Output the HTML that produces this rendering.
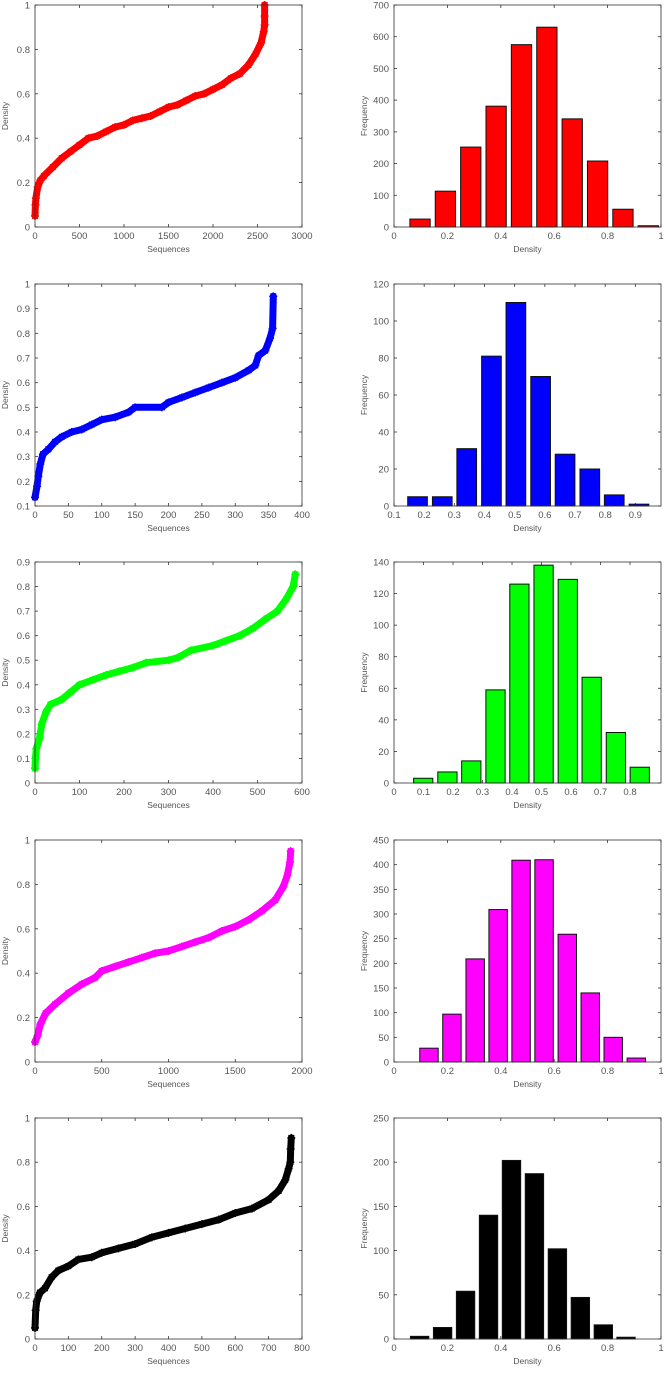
<!DOCTYPE html>
<html><head><meta charset="utf-8"><style>
body{margin:0;background:#fff;}
svg{display:block;font-family:"Liberation Sans",sans-serif;}
</style></head><body>
<svg id="fig" width="666" height="1375" viewBox="0 0 666 1375" xmlns="http://www.w3.org/2000/svg"></svg>
<script>
// ---- scatter data (Sequences vs Density) ----
const redSeqX=[0,5,10,30,60,100,200,300,400,500,600,700,800,900,1000,1100,1200,1300,1400,1500,1600,1700,1800,1900,2000,2100,2200,2300,2400,2480,2540,2570,2580,2580,2580];
const redSeqY=[0.05,0.1,0.13,0.18,0.21,0.23,0.27,0.31,0.34,0.37,0.40,0.41,0.43,0.45,0.46,0.48,0.49,0.50,0.52,0.54,0.55,0.57,0.59,0.60,0.62,0.64,0.67,0.69,0.73,0.78,0.83,0.88,0.91,0.95,1.0];
const blueSeqX=[0,3,5,8,12,20,30,40,55,70,85,100,120,140,150,190,200,220,240,260,280,300,320,330,335,345,352,356,357];
const blueSeqY=[0.135,0.18,0.22,0.27,0.31,0.33,0.36,0.38,0.40,0.41,0.43,0.45,0.46,0.48,0.50,0.50,0.52,0.54,0.56,0.58,0.60,0.62,0.65,0.67,0.71,0.73,0.78,0.82,0.95];
const greenSeqX=[0,1,3,10,15,25,35,60,80,100,130,160,190,220,250,300,320,350,400,430,460,490,520,545,565,580,585];
const greenSeqY=[0.06,0.1,0.14,0.18,0.24,0.29,0.32,0.34,0.37,0.40,0.42,0.44,0.455,0.47,0.49,0.50,0.51,0.54,0.56,0.58,0.60,0.63,0.67,0.70,0.75,0.80,0.85];
const magSeqX=[0,20,40,80,150,250,350,450,500,600,700,800,900,1000,1100,1200,1300,1400,1500,1600,1700,1800,1860,1890,1910,1915];
const magSeqY=[0.09,0.12,0.17,0.22,0.26,0.31,0.35,0.38,0.41,0.43,0.45,0.47,0.49,0.50,0.52,0.54,0.56,0.59,0.61,0.64,0.68,0.73,0.79,0.84,0.90,0.95];
const blackSeqX=[0,2,5,15,30,50,70,100,130,170,200,250,300,350,400,450,500,550,600,650,700,730,750,760,765,766,768];
const blackSeqY=[0.05,0.13,0.17,0.21,0.23,0.28,0.31,0.33,0.36,0.37,0.39,0.41,0.43,0.46,0.48,0.50,0.52,0.54,0.57,0.59,0.63,0.67,0.72,0.77,0.80,0.86,0.91];
// ---- histogram data ----
const redFreq=[25,113,252,381,575,630,341,208,56,4];
const blueFreq=[5,5,31,81,110,70,28,20,6,1];
const greenFreq=[3,7,14,59,126,138,129,67,32,10];
const magFreq=[28,97,209,309,409,410,259,140,50,8];
const blackFreq=[3,13,54,140,202,187,102,47,16,2];
const redBins=[0.0975,0.1925,0.2875,0.3825,0.4775,0.5725,0.6675,0.7625,0.8575,0.9525];
const blueBins=[0.178,0.26,0.341,0.423,0.504,0.586,0.667,0.749,0.83,0.912];
const greenBins=[0.099,0.181,0.262,0.344,0.425,0.507,0.589,0.67,0.752,0.833];
const magBins=[0.131,0.217,0.304,0.39,0.476,0.562,0.649,0.735,0.821,0.9075];
const blackBins=[0.096,0.182,0.268,0.354,0.44,0.526,0.612,0.698,0.784,0.869];
// ---- tick labels ----
const redXTicks=[0,500,1000,1500,2000,2500,3000], redYTicks=[0,0.2,0.4,0.6,0.8,1];
const blueXTicks=[0,50,100,150,200,250,300,350,400], blueYTicks=[0.1,0.2,0.3,0.4,0.5,0.6,0.7,0.8,0.9,1];
const greenXTicks=[0,100,200,300,400,500,600], greenYTicks=[0,0.1,0.2,0.3,0.4,0.5,0.6,0.7,0.8,0.9];
const magXTicks=[0,500,1000,1500,2000], magYTicks=[0,0.2,0.4,0.6,0.8,1];
const blackXTicks=[0,100,200,300,400,500,600,700,800], blackYTicks=[0,0.2,0.4,0.6,0.8,1];
const h1X=[0,0.2,0.4,0.6,0.8,1], h1Y=[0,100,200,300,400,500,600,700];
const h2X=[0.1,0.2,0.3,0.4,0.5,0.6,0.7,0.8,0.9], h2Y=[0,20,40,60,80,100,120];
const h3X=[0,0.1,0.2,0.3,0.4,0.5,0.6,0.7,0.8], h3Y=[0,20,40,60,80,100,120,140];
const h4X=[0,0.2,0.4,0.6,0.8,1], h4Y=[0,50,100,150,200,250,300,350,400,450];
const h5X=[0,0.2,0.4,0.6,0.8,1], h5Y=[0,50,100,150,200,250];

const NS='http://www.w3.org/2000/svg';
const svg=document.getElementById('fig');
function mk(tag,attrs,parent){const e=document.createElementNS(NS,tag);for(const k in attrs)e.setAttribute(k,attrs[k]);(parent||svg).appendChild(e);return e;}
function fmt(v){return String(Math.round(v*1000)/1000);}

function axes(g,L,R,T,B,xmin,xmax,ymin,ymax,xt,yt,xlabel,ylabel){
  const sx=v=>L+(v-xmin)/(xmax-xmin)*(R-L);
  const sy=v=>B-(v-ymin)/(ymax-ymin)*(B-T);
  xt.forEach(v=>{const x=sx(v);
    const t=mk('line',{x1:x,y1:B,x2:x,y2:B-3,stroke:'#333','stroke-width':0.8},g);
    
    mk('line',{x1:x,y1:T,x2:x,y2:T+3,stroke:'#333','stroke-width':0.8},g);
    const tx=mk('text',{x:x,y:B+12,'font-size':9.5,fill:'#555','text-anchor':'middle'},g);tx.textContent=fmt(v);
    
  });
  yt.forEach(v=>{const y=sy(v);
    const t=mk('line',{x1:L,y1:y,x2:L+3,y2:y,stroke:'#333','stroke-width':0.8},g);
    
    mk('line',{x1:R,y1:y,x2:R-3,y2:y,stroke:'#333','stroke-width':0.8},g);
    const tx=mk('text',{x:L-5,y:y+3.5,'font-size':9.5,fill:'#555','text-anchor':'end'},g);tx.textContent=fmt(v);
    
  });
  const xl=mk('text',{x:(L+R)/2,y:B+25,'font-size':8.5,fill:'#555','text-anchor':'middle'},g);xl.textContent=xlabel;
  
  const yl=mk('text',{x:0,y:0,'font-size':8.5,fill:'#555','text-anchor':'middle',transform:`translate(${L-27},${(T+B)/2}) rotate(-90)`},g);yl.textContent=ylabel;
  
  return {sx,sy};
}
function frame(g,L,R,T,B){const f=mk('rect',{x:L,y:T,width:R-L,height:B-T,fill:'none',stroke:'#333','stroke-width':0.8},g);
  }

function scatter(name,L,R,T,B,xmin,xmax,ymin,ymax,xt,yt,xs,ys,color){
  const g=mk('g',{});
  
  
  const {sx,sy}=axes(g,L,R,T,B,xmin,xmax,ymin,ymax,xt,yt,'Sequences','Density');
  const pts=xs.map((x,i)=>sx(x).toFixed(1)+','+sy(ys[i]).toFixed(1)).join(' ');
  const pl=mk('polyline',{points:pts,fill:'none',stroke:color,'stroke-width':7,'stroke-linejoin':'round','stroke-linecap':'round'},g);
  
  xs.forEach((x,i)=>{const cx=sx(x),cy=sy(ys[i]),r=4;
    const m=mk('path',{d:`M${cx-r},${cy}H${cx+r}M${cx},${cy-r}V${cy+r}M${cx-r*.7},${cy-r*.7}L${cx+r*.7},${cy+r*.7}M${cx-r*.7},${cy+r*.7}L${cx+r*.7},${cy-r*.7}`,stroke:color,'stroke-width':1.4},g);
    
  });
  frame(g,L,R,T,B);
}
function hist(name,L,R,T,B,xmin,xmax,ymin,ymax,xt,yt,bins,freq,color){
  const g=mk('g',{});
  
  
  const {sx,sy}=axes(g,L,R,T,B,xmin,xmax,ymin,ymax,xt,yt,'Density','Frequency');
  const step=(bins[bins.length-1]-bins[0])/(bins.length-1);
  bins.forEach((c,i)=>{const x0=sx(c-step*0.4),x1=sx(c+step*0.4);
    const b=mk('rect',{x:x0,y:sy(freq[i]),width:x1-x0,height:B-sy(freq[i]),fill:color,stroke:'#111','stroke-width':1},g);
    
  });
  frame(g,L,R,T,B);
}
const rows=[[5,227],[284,506],[562,783],[840,1062],[1118,1339]];
const LL=35,LR=302,RL=394,RR=661;
scatter('red-density-scatter',LL,LR,rows[0][0],rows[0][1],0,3000,0,1,redXTicks,redYTicks,redSeqX,redSeqY,'#ff0000');
hist('red-frequency-histogram',RL,RR,rows[0][0],rows[0][1],0,1,0,700,h1X,h1Y,redBins,redFreq,'#ff0000');
scatter('blue-density-scatter',LL,LR,rows[1][0],rows[1][1],0,400,0.1,1,blueXTicks,blueYTicks,blueSeqX,blueSeqY,'#0000ff');
hist('blue-frequency-histogram',RL,RR,rows[1][0],rows[1][1],0.1,0.985,0,120,h2X,h2Y,blueBins,blueFreq,'#0000ff');
scatter('green-density-scatter',LL,LR,rows[2][0],rows[2][1],0,600,0,0.9,greenXTicks,greenYTicks,greenSeqX,greenSeqY,'#00ff00');
hist('green-frequency-histogram',RL,RR,rows[2][0],rows[2][1],0,0.905,0,140,h3X,h3Y,greenBins,greenFreq,'#00ff00');
scatter('magenta-density-scatter',LL,LR,rows[3][0],rows[3][1],0,2000,0,1,magXTicks,magYTicks,magSeqX,magSeqY,'#ff00ff');
hist('magenta-frequency-histogram',RL,RR,rows[3][0],rows[3][1],0,1,0,450,h4X,h4Y,magBins,magFreq,'#ff00ff');
scatter('black-density-scatter',LL,LR,rows[4][0],rows[4][1],0,800,0,1,blackXTicks,blackYTicks,blackSeqX,blackSeqY,'#000000');
hist('black-frequency-histogram',RL,RR,rows[4][0],rows[4][1],0,1,0,250,h5X,h5Y,blackBins,blackFreq,'#000000');
</script>
</body></html>
